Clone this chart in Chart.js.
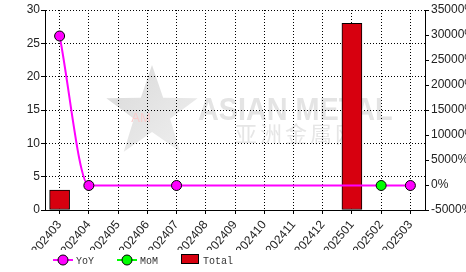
<!DOCTYPE html>
<html>
<head>
<meta charset="utf-8">
<script src="https://cdn.jsdelivr.net/npm/chart.js@4"></script>
<style>
  html, body { margin: 0; padding: 0; background: #fff; }
  #wrap { width: 466px; height: 272px; }
</style>
</head>
<body>
<div id="wrap"><canvas id="myChart" width="466" height="272"></canvas></div>
<script>
// data
const months = ['202403', '202404', '202405', '202406', '202407', '202408', '202409',
                '202410', '202411', '202412', '202501', '202502', '202503'];
const totalValues = [3, null, null, null, null, null, null, null, null, null, 28, null, null];
const yoyValues = [29800, -100, null, null, -100, null, null, null, null, null, null, null, -100];
const momValues = [null, null, null, null, null, null, null, null, null, null, null, -100, null];
const leftTicks = { min: 0, max: 30, step: 5 };
const rightTicks = { min: -5000, max: 35000, step: 5000 };

const tickFont = { family: 'Liberation Sans, Arial, sans-serif', size: 12 };

// watermark behind the grid
const watermark = {
    id: 'watermark',
    beforeDraw(chart) {
        const c = chart.ctx;
        c.save();
        // star
        const cx = 152, cy = 113, ro = 48, ri = 19;
        c.beginPath();
        for (let i = 0; i < 10; i++) {
            const r = i % 2 === 0 ? ro : ri;
            const a = -Math.PI / 2 + i * Math.PI / 5;
            c.lineTo(cx + r * Math.cos(a), cy + r * Math.sin(a));
        }
        c.closePath();
        const g = c.createLinearGradient(cx - ro, cy - ro, cx + ro, cy + ro);
        g.addColorStop(0, '#d8d8d8');
        g.addColorStop(1, '#f2f2f2');
        c.fillStyle = g;
        c.fill();
        c.fillStyle = '#f8cccc';
        c.font = '13px Liberation Sans, Arial, sans-serif';
        c.textAlign = 'center';
        c.textBaseline = 'middle';
        c.fillText('AM', 141, 118);
        // text
        c.fillStyle = '#e4e4e4';
        c.textAlign = 'left';
        c.textBaseline = 'alphabetic';
        c.save();
        c.translate(198, 120);
        c.scale(0.9, 1);
        c.font = 'bold 32px Liberation Sans, Arial, sans-serif';
        c.fillText('ASIAN METAL', 0, 0);
        c.restore();
        c.font = '22px Noto Sans CJK SC, sans-serif';
        c.fillStyle = '#e6e6e6';
        const cn = '亚洲金属网';
        for (let i = 0; i < cn.length; i++) {
            c.fillText(cn[i], 235 + i * 25, 142);
        }
        c.restore();
    }
};

// legend drawn under the axis labels
const bottomLegend = {
    id: 'bottomLegend',
    afterDraw(chart) {
        const c = chart.ctx;
        const y = 260;
        const ds = chart.data.datasets;
        const items = [
            { d: ds[0], x: 53, kind: 'line' },
            { d: ds[1], x: 117, kind: 'line' },
            { d: ds[2], x: 181, kind: 'box' }
        ];
        c.save();
        c.font = '10px Liberation Mono, Courier New, monospace';
        c.textBaseline = 'middle';
        c.textAlign = 'left';
        items.forEach(it => {
            if (it.kind === 'line') {
                c.strokeStyle = it.d.borderColor;
                c.lineWidth = 2;
                c.beginPath();
                c.moveTo(it.x, y);
                c.lineTo(it.x + 20, y);
                c.stroke();
                c.beginPath();
                c.arc(it.x + 10, y, 5, 0, Math.PI * 2);
                c.fillStyle = it.d.pointBackgroundColor;
                c.fill();
                c.lineWidth = 1;
                c.strokeStyle = '#000';
                c.stroke();
                c.fillStyle = '#333';
                c.fillText(it.d.label, it.x + 23, y + 1);
            } else {
                c.fillStyle = it.d.backgroundColor;
                c.fillRect(it.x + 0.5, y - 5.5, 17, 9);
                c.strokeStyle = '#000';
                c.lineWidth = 1;
                c.strokeRect(it.x + 0.5, y - 5.5, 17, 9);
                c.fillStyle = '#333';
                c.fillText(it.d.label, it.x + 22, y + 1);
            }
        });
        c.restore();
    }
};

const ctx = document.getElementById('myChart').getContext('2d');
const myChart = new Chart(ctx, {
    type: 'bar',
    data: {
        labels: months,
        datasets: [{
            type: 'line',
            label: 'YoY',
            data: yoyValues,
            yAxisID: 'y1',
            borderColor: '#ff00ff',
            borderWidth: 2,
            pointBackgroundColor: '#ff00ff',
            pointBorderColor: '#000',
            pointBorderWidth: 1,
            pointRadius: 5,
            cubicInterpolationMode: 'monotone',
            spanGaps: true,
            order: 1
        }, {
            type: 'line',
            label: 'MoM',
            data: momValues,
            yAxisID: 'y1',
            borderColor: '#00ff00',
            borderWidth: 2,
            pointBackgroundColor: '#00ff00',
            pointBorderColor: '#000',
            pointBorderWidth: 1,
            pointRadius: 5,
            spanGaps: true,
            order: 0
        }, {
            label: 'Total',
            data: totalValues,
            yAxisID: 'y',
            backgroundColor: '#d7000f',
            borderColor: '#000',
            borderWidth: 1,
            borderSkipped: false,
            barThickness: 20,
            order: 2
        }]
    },
    options: {
        responsive: false,
        animation: false,
        layout: { padding: { top: 10, left: 0, right: 0, bottom: 22 } },
        plugins: {
            legend: { display: false },
            tooltip: { enabled: false }
        },
        scales: {
            x: {
                afterFit: s => { s.height = 40; },
                grid: {
                    offset: false,
                    color: '#000',
                    tickColor: '#000',
                    tickLength: 4
                },
                border: { color: '#000', width: 1, dash: [1, 2] },
                ticks: {
                    color: '#222',
                    font: tickFont,
                    minRotation: 50,
                    maxRotation: 50,
                    autoSkip: false,
                    padding: 4
                }
            },
            y: {
                position: 'left',
                min: leftTicks.min,
                max: leftTicks.max,
                afterFit: s => { s.width = 45; },
                grid: { color: '#000', tickColor: '#000', tickLength: 4 },
                border: { color: '#000', width: 1, dash: [1, 2] },
                ticks: { stepSize: leftTicks.step, color: '#222', font: tickFont, padding: 1 }
            },
            y1: {
                position: 'right',
                min: rightTicks.min,
                max: rightTicks.max,
                afterFit: s => { s.width = 41; },
                grid: { drawOnChartArea: false, color: '#000', tickColor: '#000', tickLength: 4 },
                border: { color: '#000', width: 1 },
                ticks: {
                    stepSize: rightTicks.step,
                    color: '#222',
                    font: tickFont,
                    padding: 2,
                    callback: v => v + '%'
                }
            }
        }
    },
    plugins: [watermark, bottomLegend]
});
</script>
</body>
</html>
